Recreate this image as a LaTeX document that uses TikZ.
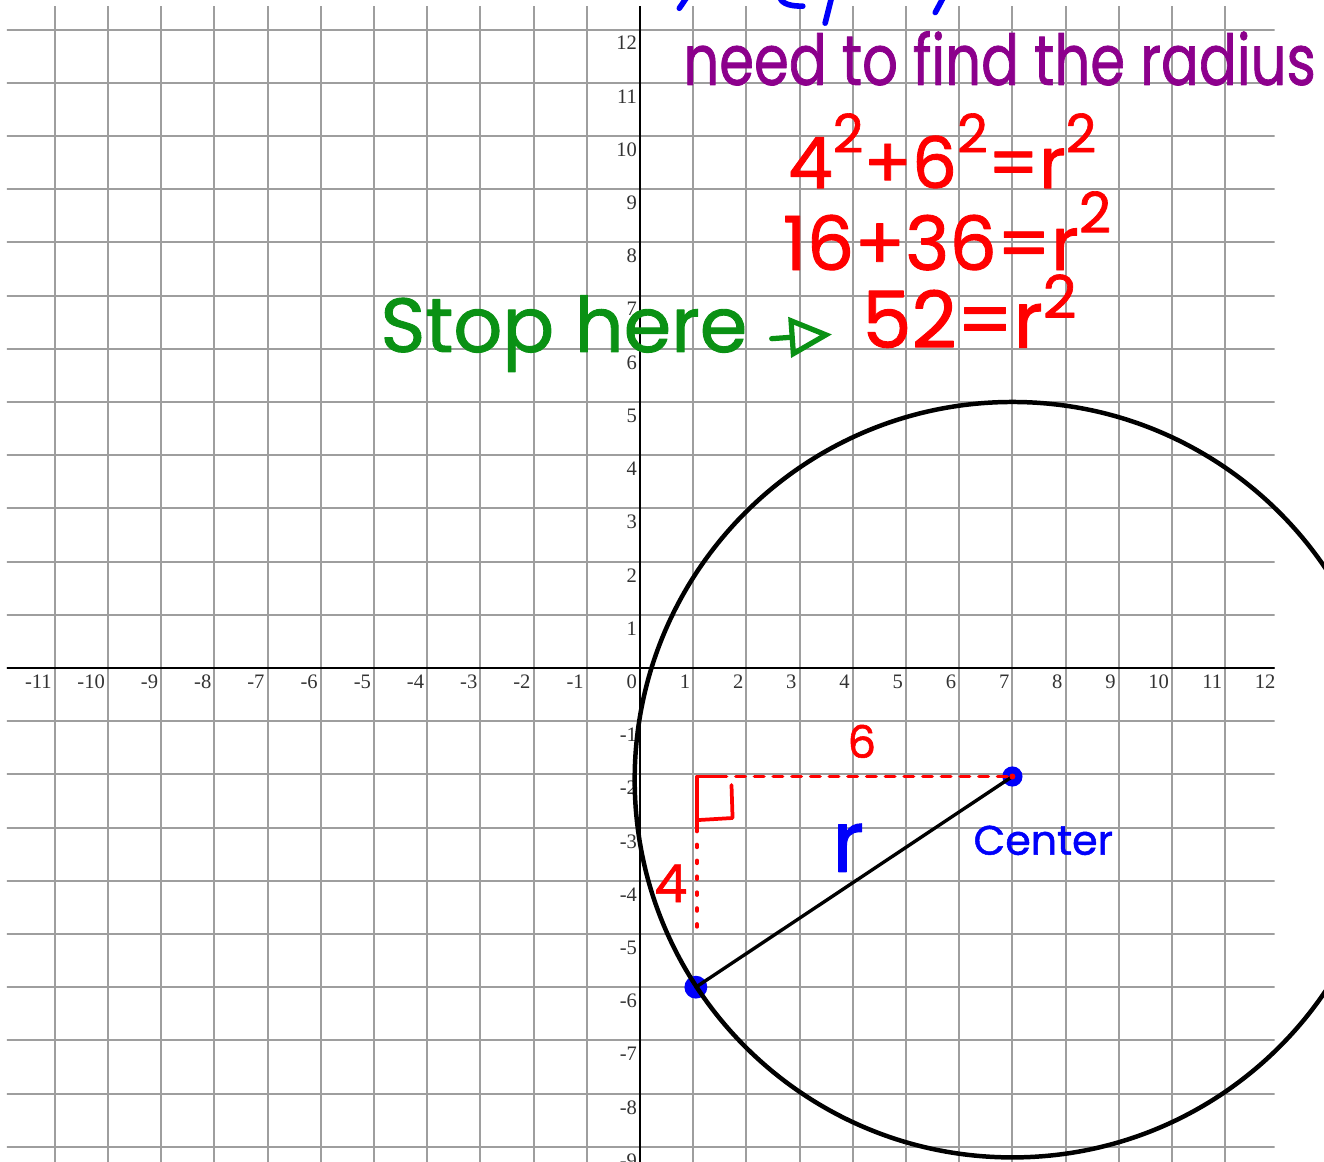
\documentclass[tikz,border=0pt]{standalone}
\usepackage{fontspec}
\setmainfont{Liberation Serif}
\newfontfamily\handfont[FakeBold=1.2]{Poppins}
\usetikzlibrary{arrows.meta}
\definecolor{gridgray}{RGB}{158,158,158}
\definecolor{penred}{RGB}{255,0,0}
\definecolor{penblue}{RGB}{0,0,250}
\definecolor{pengreen}{RGB}{10,145,20}
\definecolor{penpurple}{RGB}{140,0,140}
\newcommand{\sqmark}[1][0.5em]{\raisebox{#1}{\scalebox{0.75}{2}}}

\begin{document}
\begin{tikzpicture}[line cap=round,line join=round,
  ticklab/.style={anchor=north east,inner sep=0.6pt,font=\fontsize{11}{11}\selectfont,text=black!80},
  hand/.style={inner sep=0pt,anchor=base},
  ptdot/.style={circle,fill=penblue,inner sep=0pt}]
\useasboundingbox (-12.03,-9.286) rectangle (12.857,12.556);
\begin{scope}
\clip (-11.9,-9.4) rectangle (11.93,12.43);
\draw[gridgray,line width=1pt] (-12,-10) grid (12,13);
\draw[black,line width=1.2pt] (-12,0) -- (12,0);
\draw[black,line width=1.2pt] (0,-10) -- (0,13);
\foreach \k in {-11,...,12} \node[ticklab] at (\k-0.03,-0.1) {\k};
\foreach \k in {-9,...,-1,1,2,...,12} \node[ticklab] at (-0.03,\k-0.1) {\k};
\end{scope}
\node[ptdot,minimum size=4.3mm] (pt) at (1.05,-6) {};
\node[ptdot,minimum size=3.8mm] (ctr) at (7,-2.04) {};
\coordinate (corner) at (1.07,-2.04);
\draw[line width=2.4pt] (7,-2.1) circle (7.1);
\draw[line width=1.8pt] (pt.center) -- (ctr.center);
\draw[penred,line width=2pt,dash pattern=on 5pt off 5pt] ([xshift=0.38cm]corner) -- (ctr.center);
\draw[penred,line width=2pt,dash pattern=on 1.5pt off 7pt] ([yshift=-0.98cm]corner) -- (1.07,-5.02);
\draw[penred,line width=2pt] ([xshift=0.38cm]corner) -- (corner) -- ([yshift=-0.96cm]corner);
\draw[penred,line width=2pt] (1.07,-2.86) -- (1.74,-2.82) -- (1.72,-2.2);
\fill[penred] (ctr.center) circle (1.6pt);
\node[hand,text=penred,font=\handfont\fontsize{24}{24}\selectfont] (six) at (4.17,-1.69) {6};
\node[hand,text=penred,font=\handfont\fontsize{28}{28}\selectfont] (four) at (0.58,-4.40) {4};
\node[hand,text=penblue,font=\handfont\fontsize{46}{46}\selectfont] (rlab) at (3.91,-3.83) {r};
\node[hand,text=penblue,font=\handfont\fontsize{22}{22}\selectfont] (ctrlab) at (7.58,-3.51) {Center};
\node[hand,text=penpurple,font=\handfont\fontsize{30}{30}\selectfont] (need) at (6.76,10.96) {\scalebox{1}[1.25]{need to find the radius}};
\node[hand,text=penred,font=\handfont\fontsize{38}{38}\selectfont] (eqa) at (5.68,9.02) {4\sqmark+6\sqmark=r\sqmark};
\node[hand,text=penred,font=\handfont\fontsize{40}{40}\selectfont] (eqb) at (5.77,7.48) {16+36=r\sqmark};
\node[hand,text=penred,font=\handfont\fontsize{42}{42}\selectfont,anchor=base west] (eqc) at (4.17,6.02) {52=r\sqmark[0.38em]};
\node[hand,text=pengreen,font=\handfont\fontsize{41}{41}\selectfont] (stop) at (-1.43,5.94) {Stop here};
\draw[pengreen,line width=2.8pt,-{Triangle[open,length=8mm,width=7.5mm]}] ([shift={(0.45,0.25)}]stop.base east) -- ([shift={(-0.56,0.25)}]eqc.base west);
\draw[penblue,line width=3pt] (0.875,12.6) -- (0.739,12.40);
\draw[penblue,line width=3pt] (2.63,12.6) .. controls (2.68,12.47) and (2.85,12.44) .. (3.06,12.44);
\draw[penblue,line width=3pt] (3.60,12.6) -- (3.48,12.12);
\draw[penblue,line width=3pt] (5.70,12.6) -- (5.55,12.32);
\end{tikzpicture}
\end{document}
